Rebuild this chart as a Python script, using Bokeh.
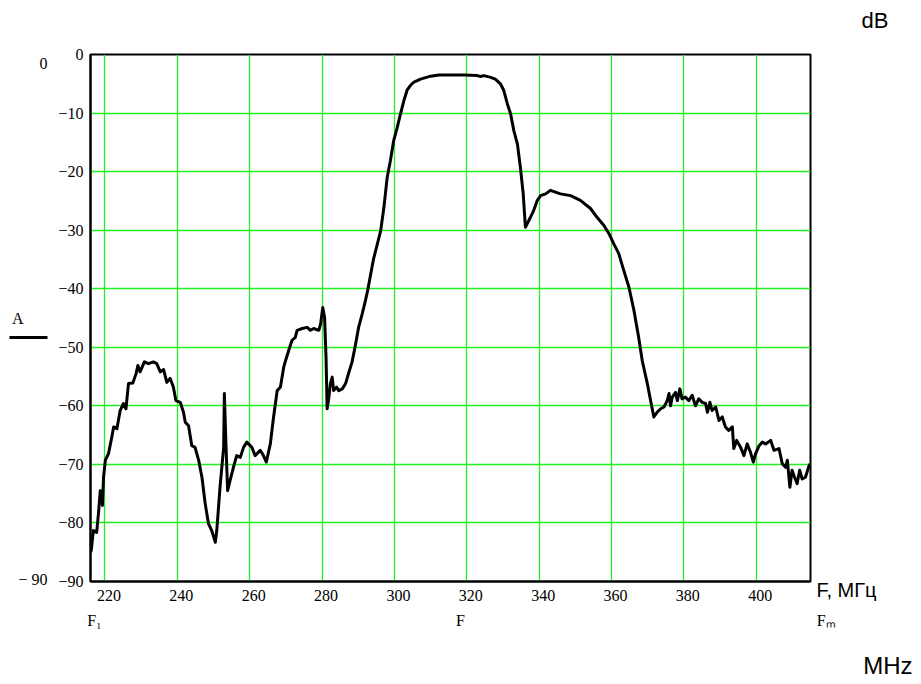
from bokeh.plotting import figure
from bokeh.models import Range1d, FixedTicker, LinearAxis, Title
from bokeh.embed import file_html
from bokeh.resources import INLINE

freq = [216.0, 216.2, 216.8, 217.7, 218.2, 218.7, 219.3, 219.6, 220.1, 221.0, 221.9, 222.4, 223.3, 224.2,
        225.1, 225.8, 226.5, 227.7, 228.6, 229.1, 229.7, 230.9, 232.0, 233.4, 234.3, 235.3, 236.2, 237.1,
        238.0, 238.9, 239.6, 240.8, 241.7, 242.2, 243.1, 244.0, 244.9, 245.9, 246.8, 247.7, 248.6, 249.5,
        250.5, 250.9, 251.8, 252.8, 253.0, 253.4, 253.9, 254.6, 255.5, 256.4, 257.4, 258.3, 259.2, 260.6,
        261.5, 262.9, 263.8, 264.6, 265.7, 266.6, 267.6, 268.5, 269.4, 269.9, 270.8, 271.7, 272.6, 273.1,
        274.5, 275.9, 276.8, 277.7, 279.1, 279.6, 280.2, 280.7, 281.1, 281.4, 281.9, 282.3, 282.8, 283.2,
        284.0, 284.6, 285.6, 286.5, 287.4, 288.3, 289.2, 290.1, 291.1, 292.0, 292.6, 294.2, 296.2, 297.1,
        298.0, 298.9, 299.8, 300.8, 301.7, 302.6, 303.5, 304.4, 305.4, 307.2, 310.0, 312.3, 314.6, 319.2,
        322.9, 323.8, 324.7, 326.6, 327.9, 329.3, 330.2, 331.2, 332.1, 333.0, 334.0, 334.8, 335.6, 336.2,
        336.7, 337.6, 338.5, 339.5, 340.4, 341.8, 343.1, 344.5, 345.9, 348.7, 351.4, 354.2, 356.0, 357.9,
        359.3, 360.6, 362.0, 363.4, 364.8, 366.2, 367.5, 368.5, 369.9, 370.8, 371.7, 372.6, 373.6, 374.5,
        375.4, 375.9, 376.3, 376.8, 377.7, 378.2, 378.9, 379.5, 380.4, 381.4, 382.3, 383.2, 384.1, 385.1,
        386.0, 386.5, 387.2, 387.8, 388.8, 389.7, 390.6, 391.5, 392.4, 393.4, 393.8, 394.6, 395.7, 396.6,
        397.5, 398.4, 399.2, 399.8, 400.8, 401.7, 402.6, 404.0, 404.9, 406.3, 407.2, 408.1, 408.6, 409.3,
        409.9, 410.6, 411.3, 412.0, 412.7, 413.6, 414.2, 414.8]

atten = [-85.0, -84.7, -81.3, -81.6, -78.4, -74.5, -77.0, -72.2, -69.3, -68.1, -65.3, -63.6, -63.9, -60.8,
         -59.6, -60.5, -56.2, -56.1, -54.5, -53.1, -54.2, -52.5, -52.8, -52.5, -52.8, -54.2, -53.8, -56.0,
         -55.3, -56.8, -59.1, -59.4, -61.1, -62.8, -63.4, -66.8, -67.1, -69.3, -72.2, -76.7, -80.1, -81.3,
         -83.3, -81.3, -73.9, -67.1, -57.9, -65.9, -74.5, -72.7, -70.5, -68.5, -68.8, -67.1, -66.2, -67.1,
         -68.5, -67.6, -68.5, -69.6, -66.5, -61.9, -57.4, -56.8, -53.4, -52.3, -50.5, -48.8, -48.3, -47.1,
         -46.8, -46.6, -47.1, -46.8, -47.1, -46.0, -43.2, -44.9, -51.7, -60.5, -58.5, -56.2, -55.1, -57.4,
         -56.8, -57.4, -57.1, -56.2, -54.3, -52.5, -49.7, -46.6, -44.3, -42.0, -40.3, -35.0, -30.1, -26.1,
         -21.0, -18.1, -14.7, -12.4, -10.1, -7.9, -6.1, -5.3, -4.7, -4.2, -3.7, -3.5, -3.5, -3.5,
         -3.6, -3.75, -3.6, -3.9, -4.2, -5.0, -6.1, -8.4, -10.1, -13.0, -15.3, -19.2, -23.8, -29.5,
         -28.9, -27.8, -26.6, -24.9, -24.1, -23.8, -23.2, -23.5, -23.8, -24.1, -24.9, -26.3, -27.8, -29.2,
         -30.6, -32.3, -34.0, -36.9, -39.7, -43.7, -48.3, -52.3, -56.2, -59.1, -61.9, -61.1, -60.5, -60.2,
         -59.1, -57.9, -60.0, -58.5, -57.7, -59.1, -57.1, -58.8, -58.5, -59.1, -58.2, -60.0, -58.8, -59.4,
         -59.6, -61.1, -59.4, -60.8, -60.2, -62.5, -61.9, -63.6, -64.2, -63.6, -67.3, -65.9, -67.1, -68.5,
         -66.5, -67.9, -69.6, -68.2, -66.8, -66.2, -66.5, -65.9, -67.6, -67.3, -69.9, -70.5, -69.3, -73.9,
         -71.0, -72.2, -73.3, -71.0, -72.5, -72.2, -71.0, -69.9]

x_ticks = [220, 240, 260, 280, 300, 320, 340, 360, 380, 400]
x_tick_labels = ["220", "240", "260", "280", "300", "320", "340", "360", "380", "400"]
y_ticks = [0, -10, -20, -30, -40, -50, -60, -70, -80, -90]
y_tick_labels = ["0", "\u221210", "\u221220", "\u221230", "\u221240", "\u221250",
                 "\u221260", "\u221270", "\u221280", "\u221290"]

# secondary markers (Mathcad-style annotations)
left_marks = [-1.54, -45.0, -89.65]
left_mark_labels = ["0", "A" + "\u00a0" * 6, "\u2212 90"]
legend_line_at = [-48.33]
bottom_marks = [217.07, 318.27, 414.9]
bottom_mark_labels = ["F\u2081", "F", "\u00a0" * 8 + "F\u2098"]
right_marks = [-89.25]
right_mark_labels = ["\u00a0\nF, \u041c\u0413\u0446"]

SERIF = "Liberation Serif"
SANS = "Liberation Sans"
GRID = "#22ee22"
NBSP = "\u00a0"

p = figure(width=916, height=684, output_backend="svg", toolbar_location=None,
           x_range=Range1d(216, 415), y_range=Range1d(-90, 0),
           min_border_left=90, min_border_right=106, min_border_top=54, min_border_bottom=103)
p.background_fill_color = "white"
p.border_fill_color = "white"
p.outline_line_color = "black"
p.outline_line_width = 2


def style_axis(ax, font=SERIF, size="16px", standoff=5):
    ax.axis_line_color = None
    ax.major_tick_line_color = None
    ax.minor_tick_line_color = None
    ax.major_tick_out = 0
    ax.major_tick_in = 0
    ax.minor_tick_out = 0
    ax.minor_tick_in = 0
    ax.major_label_text_font = font
    ax.major_label_text_font_size = size
    ax.major_label_text_color = "black"
    ax.major_label_standoff = standoff


p.xaxis.ticker = FixedTicker(ticks=x_ticks)
p.xaxis.major_label_overrides = {t: NBSP * 2 + l for t, l in zip(x_ticks, x_tick_labels)}
p.yaxis.ticker = FixedTicker(ticks=y_ticks)
p.yaxis.major_label_overrides = {t: l for t, l in zip(y_ticks, y_tick_labels)}
style_axis(p.xaxis[0], standoff=5)
style_axis(p.yaxis[0], standoff=7)
p.xaxis[0].axis_line_color = "black"
p.xaxis[0].axis_line_width = 2
p.yaxis[0].axis_line_color = "black"
p.yaxis[0].axis_line_width = 2

# left: "0", "A", "- 90"
ax2 = LinearAxis(ticker=FixedTicker(ticks=left_marks),
                 major_label_overrides={t: l for t, l in zip(left_marks, left_mark_labels)})
style_axis(ax2, standoff=8)
p.add_layout(ax2, "left")

# left: short thick line under "A"
ax3 = LinearAxis(ticker=FixedTicker(ticks=legend_line_at),
                 major_label_overrides={legend_line_at[0]: ""})
style_axis(ax3, standoff=0)
ax3.major_tick_line_color = "black"
ax3.major_tick_line_width = 3
ax3.major_tick_line_cap = "butt"
ax3.major_tick_in = 39
ax3.major_tick_out = -1
p.add_layout(ax3, "left")

# bottom: F1, F, Fm  (+ an empty axis label used as spacing before "MHz")
bx2 = LinearAxis(ticker=FixedTicker(ticks=bottom_marks),
                 major_label_overrides={t: l for t, l in zip(bottom_marks, bottom_mark_labels)})
style_axis(bx2, standoff=5)
bx2.axis_label = NBSP
bx2.axis_label_text_font_size = "10px"
bx2.axis_label_standoff = 4
p.add_layout(bx2, "below")

# right: "F, МГц"
ry = LinearAxis(ticker=FixedTicker(ticks=right_marks),
                major_label_overrides={t: l for t, l in zip(right_marks, right_mark_labels)})
style_axis(ry, font=SANS, size="20px", standoff=6)
p.add_layout(ry, "right")

# top spacer (empty axis) so that "dB" sits high above the frame
top_sp = LinearAxis(ticker=FixedTicker(ticks=[]))
style_axis(top_sp, standoff=0)
top_sp.axis_label = NBSP
top_sp.axis_label_text_font_size = "10px"
top_sp.axis_label_standoff = 8
p.add_layout(top_sp, "above")

p.add_layout(Title(text="dB", align="right", offset=-78, standoff=0,
                   text_font=SANS, text_font_size="22px", text_font_style="normal",
                   text_color="black"), "above")
p.add_layout(Title(text="MHz", align="right", offset=-102, standoff=0,
                   text_font=SANS, text_font_size="24px", text_font_style="normal",
                   text_color="black"), "below")

p.xgrid.grid_line_color = GRID
p.ygrid.grid_line_color = GRID
p.xgrid.grid_line_width = 1.3
p.ygrid.grid_line_width = 1.3

p.line(freq, atten, line_color="black", line_width=3, line_join="round")

open("out.html", "w").write(file_html(p, INLINE))
